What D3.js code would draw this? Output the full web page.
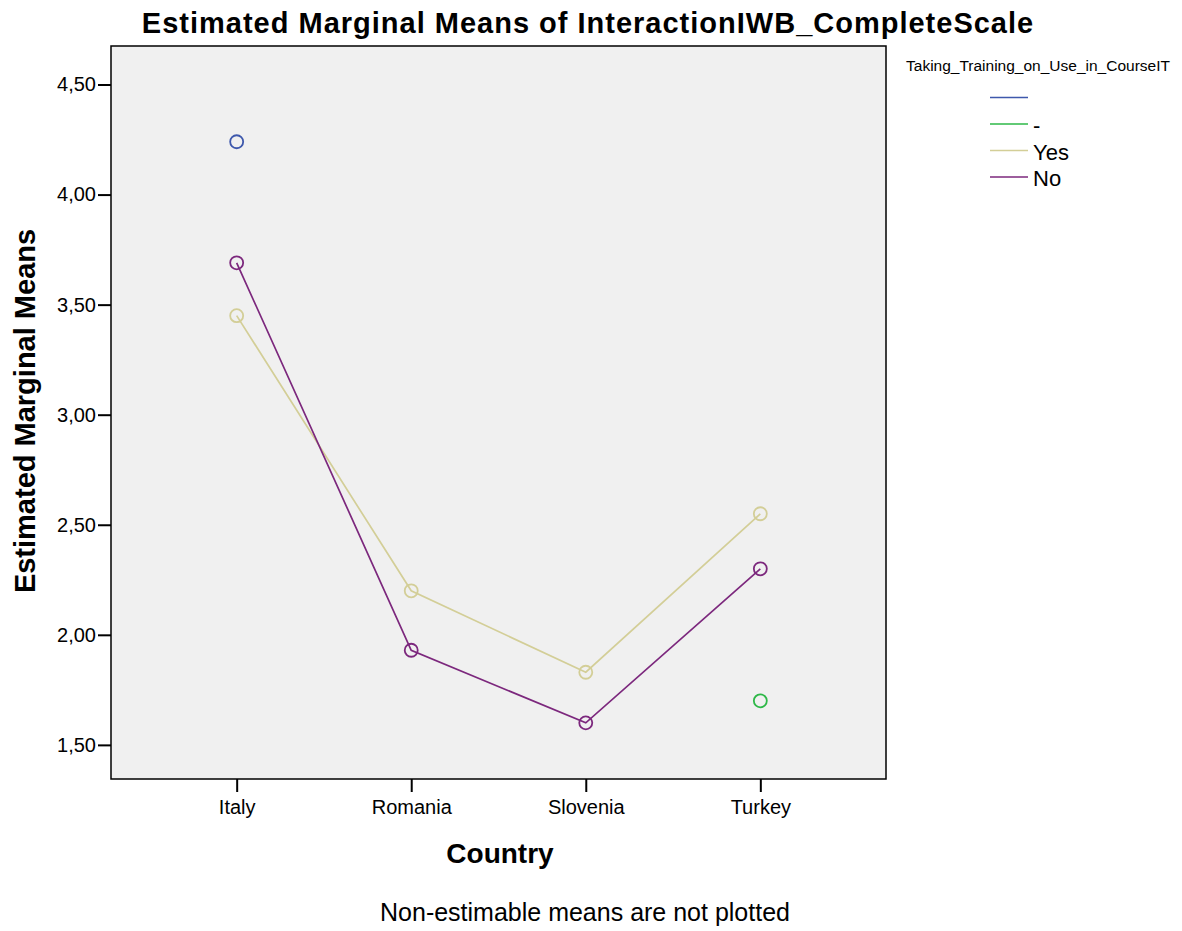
<!DOCTYPE html>
<html>
<head>
<meta charset="utf-8">
<script src="https://cdn.jsdelivr.net/npm/d3@7"></script>
<style>
  body { margin: 0; background: #fff; }
  text { font-family: "Liberation Sans", Arial, sans-serif; }
</style>
</head>
<body>
<div id="chart"></div>
<script>
// categories and series
const countries = ["Italy", "Romania", "Slovenia", "Turkey"];
const groups = ["", "-", "Yes", "No"];
const colors = ["#3e58ac", "#2eb848", "#d3ce97", "#7c287d"];
// null = not estimable
const blankValues = [4.24, null, null, null];
const dashValues = [null, null, null, 1.70];
const yesValues = [3.45, 2.20, 1.83, 2.55];
const noValues = [3.69, 1.93, 1.60, 2.30];
const yTicks = [1.5, 2.0, 2.5, 3.0, 3.5, 4.0, 4.5];

const series = [blankValues, dashValues, yesValues, noValues];

const width = 1182, height = 931;
const plotLeft = 111, plotRight = 886, plotTop = 46, plotBottom = 779;

const svg = d3.select("#chart").append("svg")
  .attr("width", width)
  .attr("height", height);

const x = d3.scalePoint()
  .domain(countries)
  .range([plotLeft, plotRight])
  .padding(0.72);

const y = d3.scaleLinear()
  .domain([1.345, 4.675])
  .range([plotBottom, plotTop]);

// plot background
svg.append("rect")
  .attr("x", plotLeft).attr("y", plotTop)
  .attr("width", plotRight - plotLeft).attr("height", plotBottom - plotTop)
  .attr("fill", "#f0f0f0")
  .attr("stroke", "#000")
  .attr("stroke-width", 1.5);

const fmt = d => d3.format(".2f")(d).replace(".", ",");

// y axis
const yAxis = svg.append("g")
  .attr("transform", `translate(${plotLeft},0)`)
  .call(d3.axisLeft(y).tickValues(yTicks).tickFormat(fmt).tickSize(13).tickPadding(2));
yAxis.select(".domain").remove();
yAxis.selectAll("line").attr("stroke-width", 2);
yAxis.selectAll("text").style("font-size", "20px").attr("fill", "#000");

// x axis
const xAxis = svg.append("g")
  .attr("transform", `translate(0,${plotBottom})`)
  .call(d3.axisBottom(x).tickSize(13).tickPadding(8));
xAxis.select(".domain").remove();
xAxis.selectAll("line").attr("stroke-width", 2);
xAxis.selectAll("text").style("font-size", "20px").attr("fill", "#000");

// lines
const line = d3.line()
  .defined(d => d.v != null)
  .x(d => x(d.c))
  .y(d => y(d.v));

series.forEach((vals, i) => {
  const pts = vals.map((v, j) => ({ c: countries[j], v: v }));
  svg.append("path")
    .datum(pts)
    .attr("d", line)
    .attr("fill", "none")
    .attr("stroke", colors[i])
    .attr("stroke-width", 1.7);
  svg.selectAll(null)
    .data(pts.filter(d => d.v != null))
    .join("circle")
    .attr("cx", d => x(d.c))
    .attr("cy", d => y(d.v))
    .attr("r", 6.5)
    .attr("fill", "none")
    .attr("stroke", colors[i])
    .attr("stroke-width", 1.8);
});

// titles
svg.append("text")
  .attr("x", 588).attr("y", 33)
  .attr("text-anchor", "middle")
  .style("font-size", "29px").style("font-weight", "bold")
  .style("letter-spacing", "1px")
  .text("Estimated Marginal Means of InteractionIWB_CompleteScale");

svg.append("text")
  .attr("transform", "translate(35,411) rotate(-90)")
  .attr("text-anchor", "middle")
  .style("font-size", "29px").style("font-weight", "bold")
  .text("Estimated Marginal Means");

svg.append("text")
  .attr("x", 500).attr("y", 863)
  .attr("text-anchor", "middle")
  .style("font-size", "28px").style("font-weight", "bold")
  .text("Country");

svg.append("text")
  .attr("x", 585).attr("y", 921)
  .attr("text-anchor", "middle")
  .style("font-size", "25px")
  .text("Non-estimable means are not plotted");

// legend
svg.append("text")
  .attr("x", 1038).attr("y", 71)
  .attr("text-anchor", "middle")
  .style("font-size", "15.5px")
  .text("Taking_Training_on_Use_in_CourseIT");

const lg = svg.selectAll(".lg")
  .data(groups)
  .join("g")
  .attr("transform", (d, i) => `translate(990,${97.5 + i * 26.5})`);
lg.append("line")
  .attr("x1", 0).attr("x2", 38)
  .attr("stroke", (d, i) => colors[i])
  .attr("stroke-width", 1.7);
lg.append("text")
  .attr("x", 43).attr("y", 9)
  .style("font-size", "22px")
  .text(d => d);
</script>
</body>
</html>
